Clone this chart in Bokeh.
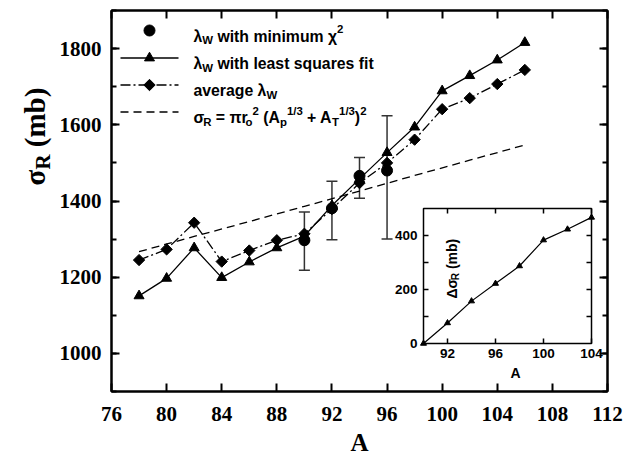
import math
from bokeh.plotting import figure
from bokeh.layouts import row
from bokeh.models import (Range1d, LinearAxis, SingleIntervalTicker, FixedTicker,
                          Whisker, TeeHead, ColumnDataSource, Label, CustomLabelingPolicy)
from bokeh.core.properties import value
from bokeh.embed import file_html
from bokeh.resources import INLINE

# ---------------- data ----------------
A_main = [78, 80, 82, 84, 86, 88, 90, 92, 94, 96, 98, 100, 102, 104, 106]
sigma_lsq = [1151, 1197, 1277, 1199, 1240, 1277, 1308, 1388, 1458, 1527, 1594, 1689, 1729, 1770, 1816]
sigma_avg = [1245, 1273, 1343, 1241, 1270, 1297, 1314, 1379, 1447, 1500, 1561, 1641, 1670, 1707, 1744]
A_chi2 = [90, 92, 94, 96]
sigma_chi2 = [1297, 1381, 1466, 1480]
chi2_low = [1218, 1298, 1407, 1300]
chi2_high = [1371, 1452, 1514, 1624]
A_geo = [78, 82, 86, 90, 94, 98, 102, 106]
sigma_geo = [1267, 1307, 1346, 1386, 1426, 1467, 1507, 1547]
A_inset = [90, 92, 94, 96, 98, 100, 102, 104]
dsigma_inset = [0, 76, 157, 222, 287, 383, 423, 467]

main_x_ticks = [76, 80, 84, 88, 92, 96, 100, 104, 108, 112]
inset_x_range = (90, 104)
inset_y_range = (0, 500)
inset_x_ticks = [92, 96, 100, 104]
inset_y_ticks = [0, 200, 400]
inset_y_all_ticks = [100, 200, 300, 400]

# ---------------- layout constants (pixels in the 632x458 page) ----------------
LABW = 55                        # strip holding the rotated y title
FL, FR, FT, FB = 111, 607, 10, 391   # main frame edges
IX0, IX1, IY0, IY1 = 423, 591, 208, 343  # inset frame edges

# ---------------- helpers ----------------
SANS = {' ': .278, '(': .333, ')': .333, '+': .584, '/': .278, '=': .584,
        '1': .556, '2': .556, '3': .556, 'A': .722, 'R': .722, 'T': .611, 'W': .944,
        'a': .556, 'b': .611, 'c': .556, 'd': .611, 'e': .556, 'f': .333, 'g': .611,
        'h': .611, 'i': .278, 'l': .278, 'm': .889, 'n': .611, 'o': .611, 'p': .611,
        'q': .611, 'r': .389, 's': .556, 't': .333, 'u': .611, 'v': .556, 'w': .778,
        'x': .556, 'y': .556, 'χ': .57, 'λ': .556, 'σ': .618, 'π': .63, 'Δ': .688}
SERIF = {' ': .25, '(': .333, ')': .333, 'R': .722, 'm': .833, 'b': .556, 'σ': .55}


def twidth(s, size, table):
    return sum(table.get(ch, 0.6) for ch in s) * size


def rich(fig, x, y, pieces, size, font, table, angle=0.0):
    cx, cy = x, y
    dx, dy = math.cos(angle), math.sin(angle)
    ux, uy = -math.sin(angle), math.cos(angle)
    for txt, kind in pieces:
        if kind == "n":
            s, off = size, 0.0
        elif kind == "sub":
            s, off = size * 0.72, -0.28 * size
        else:
            s, off = size * 0.72, 0.42 * size
        stripped = txt.lstrip(" ")
        lead = twidth(txt[:len(txt) - len(stripped)], s, table)
        cx += dx * lead
        cy += dy * lead
        core = stripped.rstrip(" ")
        trail = twidth(stripped[len(core):], s, table)
        fig.add_layout(Label(x=cx + ux * off, y=cy + uy * off, x_units="screen", y_units="screen",
                             text=core, text_font=font, text_font_size=f"{s:.1f}px",
                             text_font_style="bold", text_color="black", angle=angle,
                             text_align="left", text_baseline="alphabetic"))
        w = twidth(core, s, table) + trail
        cx += dx * w
        cy += dy * w


NO_LABELS = CustomLabelingPolicy(code="""
try { return new indices.constructor(indices.size) } catch (e) { return indices }
""")


def style_axis(ax, font, size, tick_in, minor_in, width, show_labels=True):
    ax.axis_line_width = width
    ax.axis_line_color = "black"
    ax.major_tick_in = tick_in
    ax.major_tick_out = 0
    ax.minor_tick_in = minor_in
    ax.minor_tick_out = 0
    ax.major_tick_line_width = width
    ax.minor_tick_line_width = width
    ax.major_label_text_font = font
    ax.major_label_text_font_style = "bold"
    ax.major_label_text_color = "black"
    if show_labels:
        ax.major_label_text_font_size = size
    else:
        ax.major_label_text_font_size = "1px"
        ax.major_label_standoff = 0
        ax.major_label_policy = NO_LABELS


# ---------------- main figure ----------------
p = figure(width=632 - LABW, height=458, x_range=Range1d(76, 112), y_range=Range1d(900, 1900),
           output_backend="svg", toolbar_location=None,
           min_border_left=FL - LABW, min_border_right=632 - FR, min_border_top=FT,
           min_border_bottom=458 - FB)
p.grid.visible = False
p.outline_line_color = "black"
p.outline_line_width = 2
p.background_fill_color = "white"
p.border_fill_color = "white"

xb = p.below[0]
yl = p.left[0]
xb.ticker = FixedTicker(ticks=main_x_ticks, minor_ticks=[])
yl.ticker = SingleIntervalTicker(interval=200, num_minor_ticks=2)
style_axis(xb, "Liberation Serif", "21px", 8, 5, 2)
style_axis(yl, "Liberation Serif", "21px", 8, 5, 2)
xb.major_label_standoff = 15
yl.major_label_standoff = 10
xb.axis_label = "A"
xb.axis_label_text_font = "Liberation Serif"
xb.axis_label_text_font_style = "bold"
xb.axis_label_text_font_size = "25px"
xb.axis_label_text_color = "black"
xb.axis_label_standoff = 5

xt = LinearAxis(ticker=FixedTicker(ticks=main_x_ticks, minor_ticks=[]))
style_axis(xt, "Liberation Serif", "21px", 8, 5, 2, show_labels=False)
p.add_layout(xt, "above")
yr = LinearAxis(ticker=SingleIntervalTicker(interval=200, num_minor_ticks=2))
style_axis(yr, "Liberation Serif", "21px", 8, 5, 2, show_labels=False)
p.add_layout(yr, "right")

# extra ranges: inset scales and a pixel scale for the legend samples
ipx = (inset_x_range[1] - inset_x_range[0]) / (IX1 - IX0)
ipy = (inset_y_range[1] - inset_y_range[0]) / (IY1 - IY0)
p.extra_x_ranges = {"ix": Range1d(inset_x_range[0] - (IX0 - FL) * ipx, inset_x_range[1] + (FR - IX1) * ipx),
                    "lx": Range1d(0, FR - FL)}
p.extra_y_ranges = {"iy": Range1d(inset_y_range[0] - (FB - IY1) * ipy, inset_y_range[1] + (IY0 - FT) * ipy),
                    "ly": Range1d(0, FB - FT)}

src_err = ColumnDataSource(dict(x=A_chi2, lo=chi2_low, hi=chi2_high))
p.add_layout(Whisker(source=src_err, base="x", lower="lo", upper="hi", dimension="height",
                     line_color="#333333", line_width=1.5,
                     upper_head=TeeHead(size=11, line_color="#333333", line_width=1.5),
                     lower_head=TeeHead(size=11, line_color="#333333", line_width=1.5)))

DASH_DOT = "10 3 2 3"
p.line(A_geo, sigma_geo, line_color="black", line_width=1.3, line_dash="8 5")
p.line(A_main, sigma_lsq, line_color="black", line_width=1.3)
p.scatter(A_main, sigma_lsq, marker="triangle", size=10, color="black")
p.line(A_main, sigma_avg, line_color="black", line_width=1.3, line_dash=DASH_DOT)
p.scatter(A_main, sigma_avg, marker="square", angle=math.pi / 4, size=8, color="black")
p.scatter(A_chi2, sigma_chi2, marker="circle", size=11, color="black")

# ---------------- legend (samples on the pixel scale) ----------------
rows_y = [30, 57.5, 84.5, 111.5]           # row centres, px from top
ly = [FB - r for r in rows_y]
lx0, lx1, lxc = 120 - FL, 178 - FL, 149 - FL
LG = dict(x_range_name="lx", y_range_name="ly")
p.scatter([lxc], [ly[0]], marker="circle", size=11, color="black", **LG)
p.segment([lx0], [ly[1]], [lx1], [ly[1]], line_color="black", line_width=1.3, **LG)
p.scatter([lxc], [ly[1]], marker="triangle", size=10, color="black", **LG)
p.segment([lx0], [ly[2]], [lx1], [ly[2]], line_color="black", line_width=1.3,
          line_dash=DASH_DOT, **LG)
p.scatter([lxc], [ly[2]], marker="square", angle=math.pi / 4, size=8, color="black", **LG)
p.segment([lx0], [ly[3]], [lx1], [ly[3]], line_color="black", line_width=1.3, line_dash="8 5", **LG)

LX = 193 - FL
sz = 15.8
base = [FB - (r + 5.5) for r in rows_y]
rich(p, LX, base[0], [("λ", "n"), ("W", "sub"), (" with minimum χ", "n"), ("2", "sup")],
     sz, "Liberation Sans", SANS)
rich(p, LX, base[1], [("λ", "n"), ("W", "sub"), (" with least squares fit", "n")],
     sz, "Liberation Sans", SANS)
rich(p, LX, base[2], [("average λ", "n"), ("W", "sub")], sz, "Liberation Sans", SANS)
rich(p, LX, base[3], [("σ", "n"), ("R", "sub"), (" = πr", "n"), ("o", "sub"), ("2", "sup"),
                      (" (A", "n"), ("p", "sub"), ("1/3", "sup"), (" + A", "n"), ("T", "sub"),
                      ("1/3", "sup"), (")", "n"), ("2", "sup")],
     sz, "Liberation Sans", SANS)

# ---------------- inset (drawn on its own extra ranges) ----------------
IN = dict(x_range_name="ix", y_range_name="iy")
p.quad(left=[inset_x_range[0]], right=[inset_x_range[1]], bottom=[inset_y_range[0]],
       top=[inset_y_range[1]], fill_color="white", line_color="black", line_width=1.5, **IN)
tlx = 5 * ipx
tly = 5 * ipy
n = len(inset_x_ticks)
p.segment(inset_x_ticks, [inset_y_range[0]] * n, inset_x_ticks, [inset_y_range[0] + tly] * n,
          line_color="black", line_width=1.5, **IN)
p.segment(inset_x_ticks, [inset_y_range[1]] * n, inset_x_ticks, [inset_y_range[1] - tly] * n,
          line_color="black", line_width=1.5, **IN)
m = len(inset_y_all_ticks)
p.segment([inset_x_range[0]] * m, inset_y_all_ticks, [inset_x_range[0] + tlx] * m, inset_y_all_ticks,
          line_color="black", line_width=1.5, **IN)
p.segment([inset_x_range[1]] * m, inset_y_all_ticks, [inset_x_range[1] - tlx] * m, inset_y_all_ticks,
          line_color="black", line_width=1.5, **IN)
p.text(x=inset_x_ticks, y=[inset_y_range[0]] * n, text=[str(t) for t in inset_x_ticks],
       text_font=value("Liberation Sans"), text_font_style="bold", text_font_size="13.5px",
       text_align="center", text_baseline="top", y_offset=5, text_color="black", **IN)
k = len(inset_y_ticks)
p.text(x=[inset_x_range[0]] * k, y=inset_y_ticks, text=[str(t) for t in inset_y_ticks],
       text_font=value("Liberation Sans"), text_font_style="bold", text_font_size="13.5px",
       text_align="right", text_baseline="middle", x_offset=-6, text_color="black", **IN)
p.line(A_inset, dsigma_inset, line_color="black", line_width=1.2, **IN)
p.scatter(A_inset, dsigma_inset, marker="triangle", size=6, color="black", **IN)

p.add_layout(Label(x=515 - FL, y=FB - 372, x_units="screen", y_units="screen", text="A",
                   text_font="Liberation Sans", text_font_style="bold", text_font_size="14px",
                   text_align="center", text_baseline="middle", text_color="black"))
rich(p, 451 - FL, FB - 298, [("Δσ", "n"), ("R", "sub"), (" (mb)", "n")], 14,
     "Liberation Sans", SANS, angle=math.pi / 2)

# ---------------- strip with the rotated y title ----------------
lab = figure(width=LABW, height=458, x_range=Range1d(0, LABW), y_range=Range1d(0, 458),
             output_backend="svg", toolbar_location=None, x_axis_location=None,
             y_axis_location=None, min_border=0, outline_line_color=None)
lab.grid.visible = False
lab.border_fill_color = "white"
rich(lab, 34, 458 - 252, [("σ", "n"), ("R", "sub"), (" (mb)", "n")], 29, "Liberation Serif",
     SERIF, angle=math.pi / 2)

layout = row(lab, p, spacing=0)
open("out.html", "w").write(file_html(layout, INLINE))
